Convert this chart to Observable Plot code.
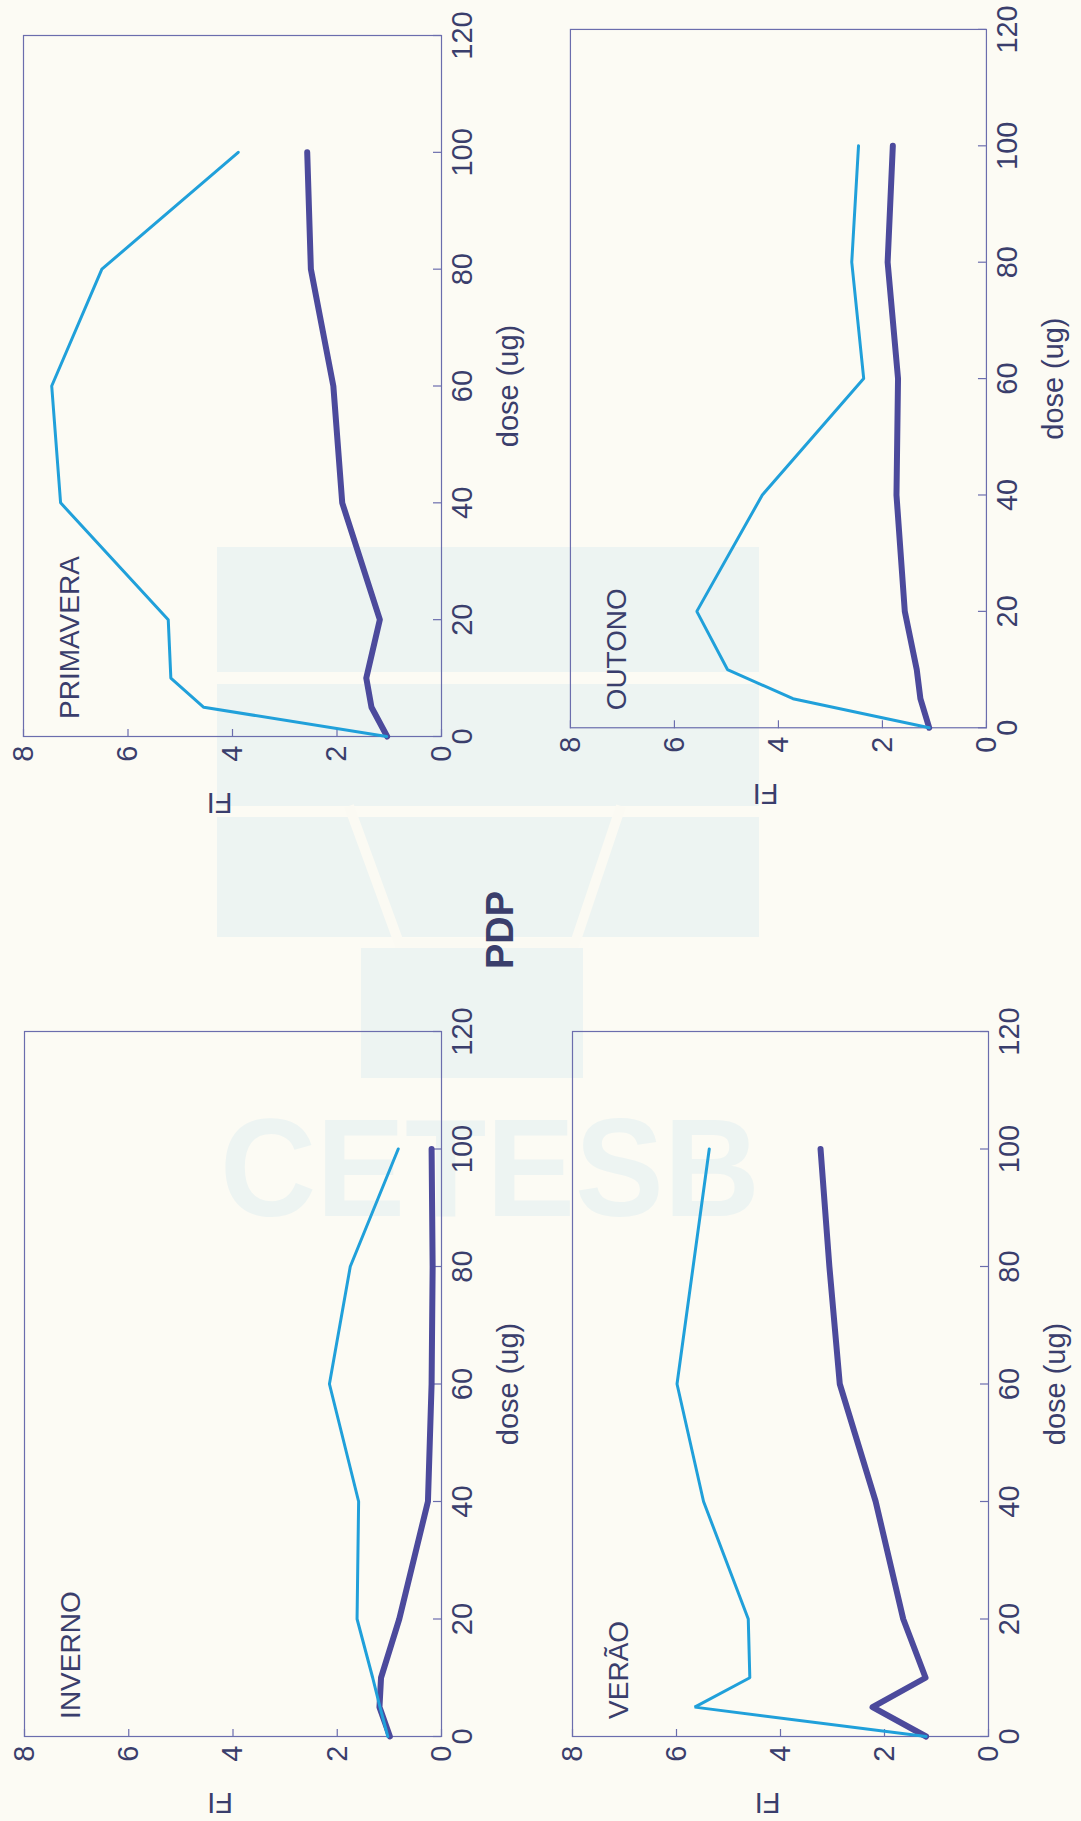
<!DOCTYPE html>
<html>
<head>
<meta charset="utf-8">
<script src="https://cdn.jsdelivr.net/npm/d3@7"></script>
<script src="https://cdn.jsdelivr.net/npm/@observablehq/plot@0.6"></script>
<style>
  html, body { margin: 0; padding: 0; background: #fcfbf4; }
  body { width: 1081px; height: 1821px; position: relative; overflow: hidden; }
  #watermark { position: absolute; left: 0; top: 0; }
  /* the printed figure sits sideways on the page: build it upright, then turn it */
  #sheet {
    position: absolute; left: 0; top: 0; width: 1821px; height: 1081px;
    transform-origin: 0 0; transform: translate(0, 1821px) rotate(-90deg);
  }
  .panel { position: absolute; }
  #title {
    position: absolute; font: bold 38px "Liberation Sans", Arial, Helvetica, sans-serif;
    color: #3a3e6c; transform: translate(-50%, -50%); white-space: nowrap;
  }
</style>
</head>
<body>
<svg id="watermark" width="1081" height="1821">
  <g fill="#edf4f2">
    <rect x="217" y="547" width="542" height="125"/>
    <rect x="217" y="684" width="542" height="122"/>
    <rect x="217" y="817" width="542" height="120"/>
    <polygon points="361,948 583,948 583,1078 361,1078"/>
    <text x="220" y="1216" font-family="Liberation Sans, Arial, sans-serif" font-weight="bold"
          font-size="140" textLength="540" lengthAdjust="spacingAndGlyphs">CETESB</text>
  </g>
  <g stroke="#fbfaf3" stroke-width="10" fill="none">
    <polyline points="349,806 399,943 575,943 621,806"/>
  </g>
</svg>
<div id="sheet"><div id="title"></div></div>
<script>
// dose levels tested (µg) and the four seasonal campaigns
const doses = [0, 5, 10, 20, 40, 60, 80, 100];
const seasons = ["INVERNO", "PRIMAVERA", "VERÃO", "OUTONO"];
const xTicks = [0, 20, 40, 60, 80, 100, 120];
const yTicks = [0, 2, 4, 6, 8];
const xLabel = "dose (ug)";
const yLabel = "FI";
const title = "PDP";

// FI per dose, light (cyan) and heavy (indigo) curves of each season
const invernoCyan     = [1.03, 1.18, 1.32, 1.62, 1.59, 2.15, 1.75, 0.83];
const invernoIndigo   = [0.99, 1.19, 1.16, 0.81, 0.26, 0.19, 0.17, 0.19];
const primaveraCyan   = [1.05, 4.55, 5.18, 5.23, 7.29, 7.46, 6.50, 3.89];
const primaveraIndigo = [1.04, 1.34, 1.44, 1.18, 1.90, 2.07, 2.50, 2.57];
const veraoCyan       = [1.20, 5.65, 4.59, 4.62, 5.48, 5.99, 5.68, 5.37];
const veraoIndigo     = [1.20, 2.23, 1.21, 1.64, 2.17, 2.86, 3.06, 3.23];
const outonoCyan      = [1.10, 3.72, 4.98, 5.57, 4.31, 2.36, 2.59, 2.46];
const outonoIndigo    = [1.10, 1.27, 1.34, 1.57, 1.73, 1.70, 1.90, 1.80];

const cyanBySeason   = [invernoCyan, primaveraCyan, veraoCyan, outonoCyan];
const indigoBySeason = [invernoIndigo, primaveraIndigo, veraoIndigo, outonoIndigo];

// plot-area boxes on the upright sheet (px)
const boxes = [
  {left: 84,   top: 24,  w: 705, h: 417},
  {left: 1084, top: 23,  w: 701, h: 418},
  {left: 84,   top: 572, w: 705, h: 416},
  {left: 1093, top: 570, w: 700, h: 417}
];

const ink = "#3a3e6c";
const frameColor = "#6b6dad";
const cyan = "#20a0da";
const indigo = "#4c4a9c";
const font = "'Liberation Sans', Arial, Helvetica, sans-serif";
const M = {left: 110, right: 30, top: 30, bottom: 110};
const tickLen = 8;

const sheet = document.getElementById("sheet");
document.getElementById("title").textContent = title;
Object.assign(document.getElementById("title").style, {left: "891px", top: "500px"});

seasons.forEach((season, i) => {
  const b = boxes[i];
  const rows = (vals) => doses.map((d, j) => ({dose: d, fi: vals[j]}));
  const chart = Plot.plot({
    width: b.w + M.left + M.right,
    height: b.h + M.top + M.bottom,
    marginLeft: M.left, marginRight: M.right, marginTop: M.top, marginBottom: M.bottom,
    style: {background: "transparent", color: ink, fontFamily: font, fontSize: "29px", overflow: "visible"},
    x: {domain: [0, 120]},
    y: {domain: [0, 8]},
    marks: [
      Plot.frame({stroke: frameColor, strokeWidth: 1.2}),
      // inward tick marks
      Plot.ruleX(xTicks, {x: d => d, y1: 0, y2: tickLen * 8 / b.h, stroke: frameColor, strokeWidth: 1.2}),
      Plot.ruleY(yTicks, {y: d => d, x1: 0, x2: tickLen * 120 / b.w, stroke: frameColor, strokeWidth: 1.2}),
      Plot.axisX({ticks: xTicks, tickSize: 0, tickPadding: 10, label: null, tickFormat: d => String(d)}),
      Plot.axisY({ticks: yTicks, tickSize: 0, tickPadding: 9, label: null, tickFormat: d => String(d)}),
      Plot.text([xLabel], {frameAnchor: "bottom", dy: 67, lineAnchor: "middle", fill: ink}),
      Plot.text([yLabel], {frameAnchor: "left", dx: -66, rotate: -90, lineAnchor: "middle", fill: ink}),
      Plot.line(rows(indigoBySeason[i]), {x: "dose", y: "fi", stroke: indigo, strokeWidth: 6, strokeLinejoin: "round", strokeLinecap: "round"}),
      Plot.line(rows(cyanBySeason[i]), {x: "dose", y: "fi", stroke: cyan, strokeWidth: 3, strokeLinejoin: "miter"}),
      Plot.text([season], {x: 3, y: 7.1, textAnchor: "start", lineAnchor: "middle", fontSize: 28, fill: ink})
    ]
  });
  const holder = document.createElement("div");
  holder.className = "panel";
  holder.style.left = (b.left - M.left) + "px";
  holder.style.top = (b.top - M.top) + "px";
  holder.appendChild(chart);
  sheet.appendChild(holder);
});
</script>
</body>
</html>
